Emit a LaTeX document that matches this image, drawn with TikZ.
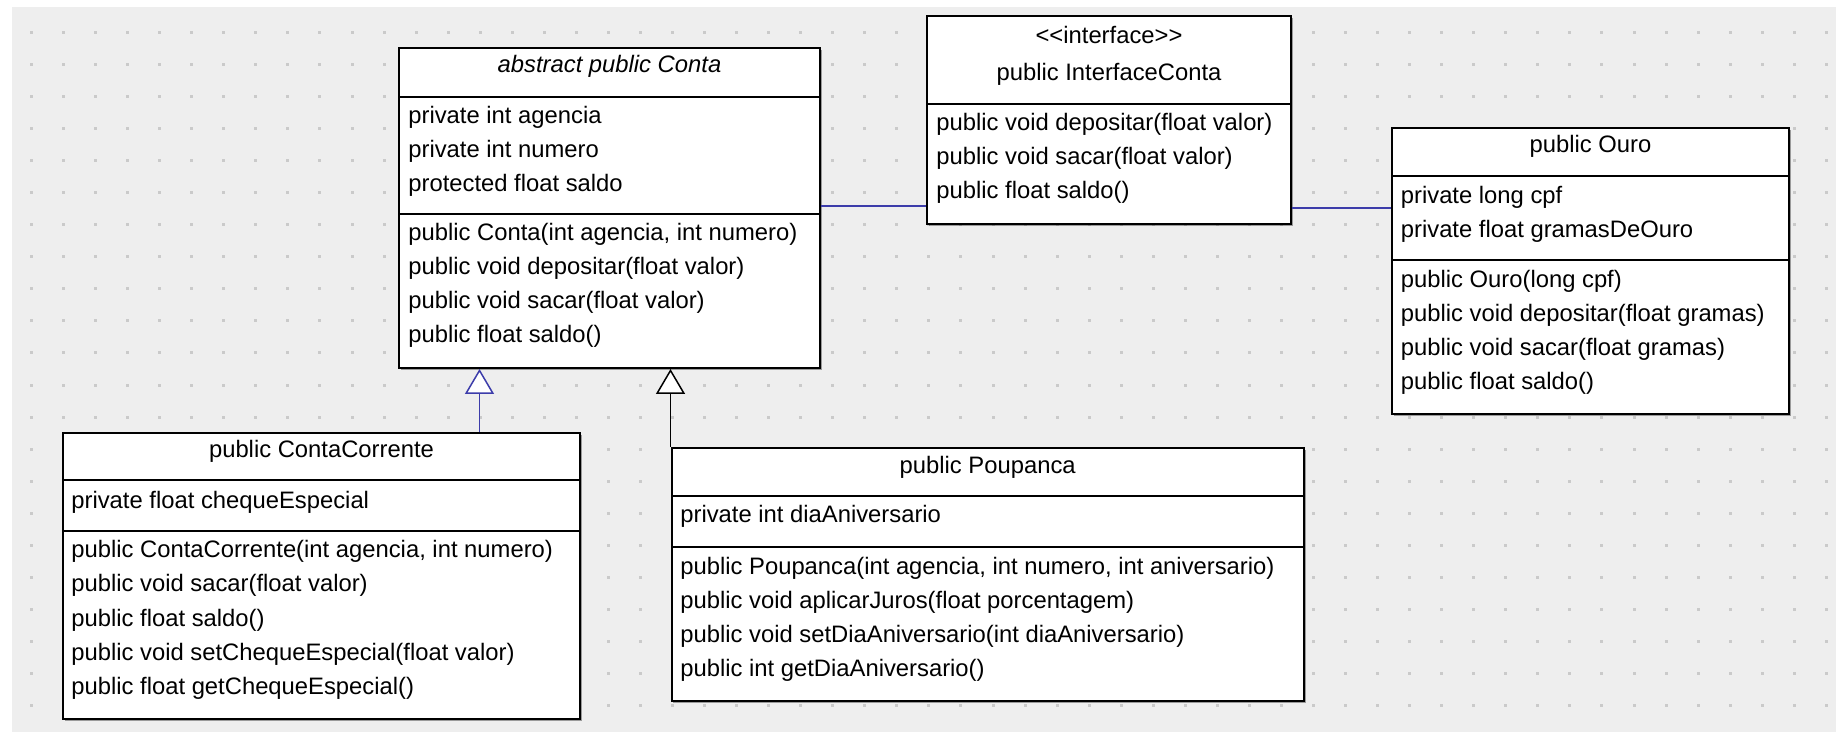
\documentclass[tikz,border=0pt]{standalone}
\usepackage{fontspec}
\setmainfont{Liberation Sans}
\usepackage{tikz}
\usetikzlibrary{fit,shadows,arrows.meta}
\definecolor{canvasGrey}{RGB}{238,238,238}
\definecolor{gridDot}{RGB}{202,202,202}
\definecolor{linkBlue}{RGB}{60,60,170}

\begin{document}
\begin{tikzpicture}[x=0.5pt,y=-0.5pt,
    classbox/.style={draw, line width=1pt, fill=white, inner sep=0pt,
      drop shadow={shadow xshift=0.9pt, shadow yshift=-0.9pt, opacity=0.35, fill=black}},
    sep/.style={line width=1pt},
    txt/.style={anchor=base west, inner sep=0pt, font=\fontsize{11.9}{14}\selectfont},
    ttl/.style={anchor=base, inner sep=0pt, font=\fontsize{11.9}{14}\selectfont},
    ittl/.style={ttl, font=\fontsize{11.9}{14}\selectfont\itshape},
    assoc/.style={draw=linkBlue, line width=0.75pt},
    genl/.style={line width=0.75pt, -{Triangle[width=14.5pt,length=12.5pt,fill=white,line width=0.75pt]}}]
\useasboundingbox (0,0) rectangle (1836,732);
% canvas with grid
\fill[canvasGrey] (12,7) rectangle (1836,732);
\foreach \i in {0,...,56}
  \foreach \j in {0,...,21}
    \fill[gridDot] (30+32.05*\i,31+32.05*\j) rectangle ++(3,3);

% abstract class Conta
\node[classbox, fit={(399,48) (820,368)}] (conta) {};
\draw[sep] (399,97) -- (820,97);
\draw[sep] (399,214) -- (820,214);
\node[ittl] (contaTitle) at (609.5,72.7) {abstract public Conta};
\foreach \t [count=\i] in {private int agencia, private int numero, protected float saldo}
  \node[txt] (contaA\i) at (408,89.5+34*\i) {\t};
\foreach \t [count=\i] in {{public Conta(int agencia, int numero)}, public void depositar(float valor),
    public void sacar(float valor), public float saldo()}
  \node[txt] (contaM\i) at (408,207+34*\i) {\t};

% interface
\node[classbox, fit={(927,16) (1291,224)}] (iface) {};
\draw[sep] (927,104) -- (1291,104);
\node[ttl] (ifaceStereo) at (1109,43.5) {{<}{<}interface{>}{>}};
\node[ttl] (ifaceTitle) at (1109,81) {public InterfaceConta};
\foreach \t [count=\i] in {public void depositar(float valor), public void sacar(float valor), public float saldo()}
  \node[txt] (ifaceM\i) at (936,97+34*\i) {\t};

% Ouro
\node[classbox, fit={(1392,128) (1789,414)}] (ouro) {};
\draw[sep] (1392,176) -- (1789,176);
\draw[sep] (1392,260) -- (1789,260);
\node[ttl] (ouroTitle) at (1590.5,152.7) {public Ouro};
\foreach \t [count=\i] in {private long cpf, private float gramasDeOuro}
  \node[txt] (ouroA\i) at (1400.5,169.5+34*\i) {\t};
\foreach \t [count=\i] in {public Ouro(long cpf), public void depositar(float gramas),
    public void sacar(float gramas), public float saldo()}
  \node[txt] (ouroM\i) at (1400.5,254+34*\i) {\t};

% ContaCorrente
\node[classbox, fit={(63,433) (580,719)}] (cc) {};
\draw[sep] (63,480) -- (580,480);
\draw[sep] (63,531) -- (580,531);
\node[ttl] (ccTitle) at (321.5,457.7) {public ContaCorrente};
\node[txt] (ccA1) at (71,508.3) {private float chequeEspecial};
\foreach \t [count=\i] in {{public ContaCorrente(int agencia, int numero)}, public void sacar(float valor),
    public float saldo(), public void setChequeEspecial(float valor), public float getChequeEspecial()}
  \node[txt] (ccM\i) at (71,523.5+34.2*\i) {\t};

% Poupanca
\node[classbox, fit={(671.5,448) (1304,701)}] (poup) {};
\draw[sep] (671.5,496) -- (1304,496);
\draw[sep] (671.5,547) -- (1304,547);
\node[ttl] (poupTitle) at (987.7,473.7) {public Poupanca};
\node[txt] (poupA1) at (680,522.7) {private int diaAniversario};
\foreach \t [count=\i] in {{public Poupanca(int agencia, int numero, int aniversario)},
    public void aplicarJuros(float porcentagem), public void setDiaAniversario(int diaAniversario),
    public int getDiaAniversario()}
  \node[txt] (poupM\i) at (680,540.4+33.9*\i) {\t};

% relations
\draw[assoc] (conta.east |- 0,206) -- (iface.west |- 0,206);
\draw[assoc] (iface.east |- 0,208) -- (ouro.west |- 0,208);
\draw[genl, linkBlue] (cc.north -| 479.5,0) -- (479.5,0 |- conta.south);
\draw[genl] (poup.north west) -- (poup.north west |- conta.south);
\end{tikzpicture}
\end{document}
